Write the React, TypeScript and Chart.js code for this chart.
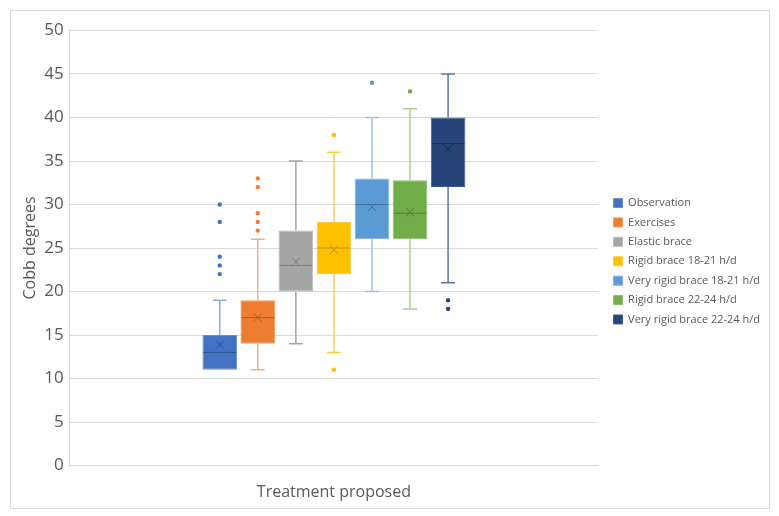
import React, { useEffect, useRef } from "react";
import { Chart, registerables } from "chart.js";

Chart.register(...registerables);

const seriesNames = [
  "Observation",
  "Exercises",
  "Elastic brace",
  "Rigid brace 18-21 h/d",
  "Very rigid brace 18-21 h/d",
  "Rigid brace 22-24 h/d",
  "Very rigid brace 22-24 h/d",
];
const whiskerMin = [11, 11, 14, 13, 20, 18, 21];
const q1 = [11, 14, 20, 22, 26, 26, 32];
const medians = [13, 17, 23, 25, 30, 29, 37];
const q3 = [15, 19, 27, 28, 33, 32.8, 40];
const whiskerMax = [19, 26, 35, 36, 40, 41, 45];
const means = [13.9, 17.0, 23.4, 24.8, 29.7, 29.1, 36.4];
const outliers: number[][] = [
  [22, 23, 24, 28, 30],
  [27, 28, 29, 32, 33],
  [],
  [11, 38],
  [44],
  [43],
  [18, 19],
];
const yTicks = [0, 5, 10, 15, 20, 25, 30, 35, 40, 45, 50];

const fillColors = ["#4472C4", "#ED7D31", "#A5A5A5", "#FFC000", "#5B9BD5", "#70AD47", "#264478"];
const edgeColors = ["#6a8fd0", "#f09a5e", "#b7b7b7", "#ffcd40", "#7cb0e0", "#8cbd6c", "#3a5a94"];
const darkColors = ["#2f528f", "#ae5a21", "#7b7b7b", "#bf9000", "#41719c", "#507e32", "#1a2f54"];
const whiskerColors = ["#8faadc", "#f4b183", "#a5a5a5", "#ffcf40", "#9dc3e6", "#a9d18e", "#5a76a8"];

const FONT = "'Open Sans', 'Liberation Sans', sans-serif";

const legendShift = {
  id: "legendShift",
  afterLayout(chart: any) {
    const lg = chart.legend;
    if (lg) {
      lg.left += 7;
      lg.right += 7;
      lg.top -= 5;
      lg.bottom -= 5;
    }
  },
};

const boxPlugin = {
  id: "boxExtras",
  afterDatasetsDraw(chart: any) {
    const ctx = chart.ctx;
    const y = chart.scales.y;
    chart.data.datasets.forEach((_: any, i: number) => {
      const meta = chart.getDatasetMeta(i);
      const bar = meta.data[0];
      if (!bar) return;
      const x = bar.x;
      const w = bar.width;
      const capHalf = w * 0.2;
      ctx.save();
      ctx.lineWidth = 1.5;
      ctx.strokeStyle = whiskerColors[i];
      const yMax = y.getPixelForValue(whiskerMax[i]);
      const yQ3 = y.getPixelForValue(q3[i]);
      const yQ1 = y.getPixelForValue(q1[i]);
      const yMin = y.getPixelForValue(whiskerMin[i]);
      ctx.beginPath();
      if (whiskerMax[i] > q3[i]) {
        ctx.moveTo(x, yQ3);
        ctx.lineTo(x, yMax);
        ctx.moveTo(x - capHalf, yMax);
        ctx.lineTo(x + capHalf, yMax);
      }
      if (whiskerMin[i] < q1[i]) {
        ctx.moveTo(x, yQ1);
        ctx.lineTo(x, yMin);
        ctx.moveTo(x - capHalf, yMin);
        ctx.lineTo(x + capHalf, yMin);
      }
      ctx.stroke();
      // median
      const yMed = y.getPixelForValue(medians[i]);
      ctx.lineWidth = 1;
      ctx.strokeStyle = darkColors[i];
      ctx.beginPath();
      ctx.moveTo(x - w / 2 + 1, yMed);
      ctx.lineTo(x + w / 2 - 1, yMed);
      ctx.stroke();
      // mean x
      const yMean = y.getPixelForValue(means[i]);
      const m = 4;
      ctx.beginPath();
      ctx.moveTo(x - m, yMean - m);
      ctx.lineTo(x + m, yMean + m);
      ctx.moveTo(x - m, yMean + m);
      ctx.lineTo(x + m, yMean - m);
      ctx.stroke();
      // outliers
      ctx.fillStyle = fillColors[i];
      outliers[i].forEach((v) => {
        ctx.beginPath();
        ctx.arc(x, y.getPixelForValue(v), 2.2, 0, Math.PI * 2);
        ctx.fill();
      });
      ctx.restore();
    });
  },
};

export default function App() {
  const ref = useRef<HTMLCanvasElement>(null);
  useEffect(() => {
    if (!ref.current) return;
    const chart = new Chart(ref.current, {
      type: "bar",
      data: {
        labels: [""],
        datasets: seriesNames.map((name, i) => ({
          label: name,
          data: [[q1[i], q3[i]]] as any,
          backgroundColor: fillColors[i],
          borderColor: edgeColors[i],
          borderWidth: 1,
          borderSkipped: false,
          barPercentage: 0.912,
          categoryPercentage: 0.504,
        })),
      },
      options: {
        animation: false,
        responsive: false,
        maintainAspectRatio: false,
        layout: { padding: { left: 9.5, right: 6, top: 19.5, bottom: 6 } },
        plugins: {
          tooltip: { enabled: false },
          legend: {
            position: "right",
            align: "center",
            labels: {
              boxWidth: 9,
              boxHeight: 9,
              padding: 8.4,
              color: "#595959",
              font: { family: FONT, size: 11 },
            },
          },
        },
        scales: {
          x: {
            grid: { display: false },
            border: { display: true, color: "#d9d9d9" },
            ticks: { display: false },
            title: {
              display: true,
              text: "Treatment proposed",
              color: "#595959",
              font: { family: FONT, size: 16 },
              padding: { top: 9.3, bottom: 0 },
            },
          },
          y: {
            min: 0,
            max: 50,
            afterBuildTicks: (axis: any) => {
              axis.ticks = yTicks.map((v) => ({ value: v }));
            },
            afterFit: (axis: any) => {
              axis.width -= 1.5;
            },
            grid: { color: "#d9d9d9", drawTicks: false },
            border: { display: true, color: "#d9d9d9" },
            ticks: {
              color: "#595959",
              font: { family: FONT, size: 17 },
              padding: 6,
            },
            title: {
              display: true,
              text: "Cobb degrees",
              color: "#595959",
              font: { family: FONT, size: 16 },
              padding: { top: 0, bottom: 0 },
            },
          },
        },
      },
      plugins: [boxPlugin, legendShift],
    });
    return () => chart.destroy();
  }, []);
  return (
    <div
      style={{
        marginLeft: 2,
        marginTop: 2,
        width: 760,
        height: 499,
        boxSizing: "border-box",
        border: "1px solid #d9d9d9",
        background: "#fff",
      }}
    >
      <canvas ref={ref} width={758} height={497} style={{ display: "block" }} />
    </div>
  );
}
